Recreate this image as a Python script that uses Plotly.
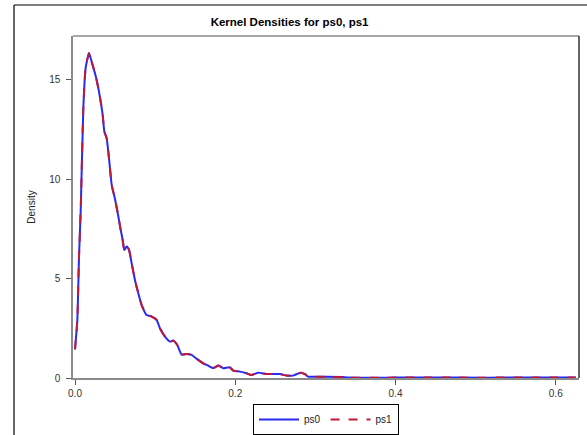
import plotly.graph_objects as go

# Kernel density estimates
ps_x = [0.0, 0.0029, 0.005, 0.0071, 0.0104, 0.0133, 0.0175, 0.0208, 0.026, 0.031,
        0.0345, 0.0366, 0.0395, 0.0428, 0.0458, 0.0499, 0.054, 0.057, 0.0595, 0.0615,
        0.0645, 0.0674, 0.0707, 0.0748, 0.079, 0.0832, 0.0894, 0.0957, 0.1019, 0.106,
        0.1123, 0.1185, 0.1226, 0.1276, 0.133, 0.1393, 0.1455, 0.152, 0.16, 0.1663,
        0.1725, 0.179, 0.185, 0.193, 0.1975, 0.206, 0.214, 0.22, 0.2287, 0.239,
        0.2557, 0.264, 0.272, 0.2815, 0.287, 0.291, 0.3056, 0.334, 0.34, 0.4,
        0.468, 0.475, 0.55, 0.625]
ps0_density = [1.44, 2.92, 6.1, 8.4, 13.6, 15.6, 16.34, 15.9, 15.16, 14.16,
               13.24, 12.4, 12.06, 10.9, 9.71, 9.0, 8.15, 7.45, 6.95, 6.44,
               6.61, 6.44, 5.77, 4.93, 4.26, 3.67, 3.17, 3.09, 2.92, 2.5,
               2.08, 1.83, 1.88, 1.66, 1.18, 1.21, 1.16, 0.96, 0.74, 0.62,
               0.5, 0.63, 0.49, 0.54, 0.37, 0.32, 0.24, 0.15, 0.27, 0.2,
               0.2, 0.12, 0.12, 0.27, 0.19, 0.07, 0.06, 0.05, 0.02, 0.02,
               0.03, 0.02, 0.02, 0.02]
ps1_density = [1.44, 2.92, 6.1, 8.4, 13.6, 15.6, 16.34, 15.9, 15.16, 14.16,
               13.24, 12.4, 12.06, 10.9, 9.71, 9.0, 8.15, 7.45, 6.95, 6.44,
               6.61, 6.44, 5.77, 4.93, 4.26, 3.67, 3.17, 3.09, 2.92, 2.5,
               2.08, 1.83, 1.88, 1.66, 1.18, 1.21, 1.16, 0.96, 0.74, 0.62,
               0.5, 0.63, 0.49, 0.54, 0.37, 0.32, 0.24, 0.15, 0.27, 0.2,
               0.2, 0.12, 0.12, 0.27, 0.19, 0.07, 0.06, 0.05, 0.02, 0.02,
               0.03, 0.02, 0.02, 0.02]
series_names = ["ps0", "ps1"]
x_tickvals = [0.0, 0.2, 0.4, 0.6]
x_ticktext = ["0.0", "0.2", "0.4", "0.6"]
y_tickvals = [0, 5, 10, 15]

FONT = "Liberation Sans, Arial, sans-serif"
BLUE = "#2A2AF0"
RED = "#C0183A"

fig = go.Figure()
fig.add_trace(go.Scatter(x=ps_x, y=ps0_density, mode="lines", name=series_names[0],
                         line=dict(color=BLUE, width=2, shape="spline", smoothing=0.5)))
fig.add_trace(go.Scatter(x=ps_x, y=ps1_density, mode="lines", name=series_names[1],
                         line=dict(color=RED, width=2, dash="dash", shape="spline", smoothing=0.5)))

fig.update_layout(
    width=587, height=435,
    margin=dict(l=73, r=8, t=36, b=57, autoexpand=False),
    paper_bgcolor="white", plot_bgcolor="white",
    font=dict(family=FONT, size=10, color="#333333"),
    title=dict(text="<b>Kernel Densities for ps0, ps1</b>", x=0.428, xref="paper",
               xanchor="center", y=1 - 22 / 435, yanchor="middle",
               font=dict(family=FONT, size=11.5, color="black")),
    showlegend=True,
    legend=dict(orientation="h", x=0.5, xanchor="center", y=-0.1213, yanchor="middle",
                bordercolor="black", borderwidth=1, bgcolor="white",
                font=dict(family=FONT, size=10, color="#222222"),
                itemwidth=40, tracegroupgap=0),
)
fig.update_xaxes(range=[-0.0025, 0.629], tickvals=x_tickvals, ticktext=x_ticktext,
                 showgrid=False, zeroline=False, showline=True, linecolor="#8a8a8a",
                 linewidth=1.5, ticks="outside", ticklen=5, tickcolor="#555555",
                 tickfont=dict(size=10, color="#333333"), automargin=False)
fig.update_yaxes(range=[0, 17.2], tickvals=y_tickvals, showgrid=False, zeroline=False,
                 showline=True, linecolor="#8a8a8a", linewidth=1.5, ticks="outside",
                 ticklen=5, tickcolor="#555555", tickfont=dict(size=10, color="#333333"),
                 ticklabelstandoff=4, automargin=False,
                 title=dict(text="Density", font=dict(size=10, color="#222222"), standoff=12))

# plot-area frame: top (gray) and right (dark)
fig.add_shape(type="line", xref="paper", yref="paper", x0=0, x1=1, y0=1, y1=1,
              line=dict(color="#8a8a8a", width=1.5))
fig.add_shape(type="line", xref="paper", yref="paper", x0=1, x1=1, y0=0, y1=1,
              line=dict(color="#333333", width=1.5))
# outer graph frame (left and top edges visible)
fig.add_shape(type="line", xref="paper", yref="paper", x0=-0.1166, x1=-0.1166,
              y0=1.0906, y1=-0.2, line=dict(color="black", width=1.2))
fig.add_shape(type="line", xref="paper", yref="paper", x0=-0.1166, x1=1.05,
              y0=1.0906, y1=1.0906, line=dict(color="black", width=1.2))

fig.write_html("out.html")
